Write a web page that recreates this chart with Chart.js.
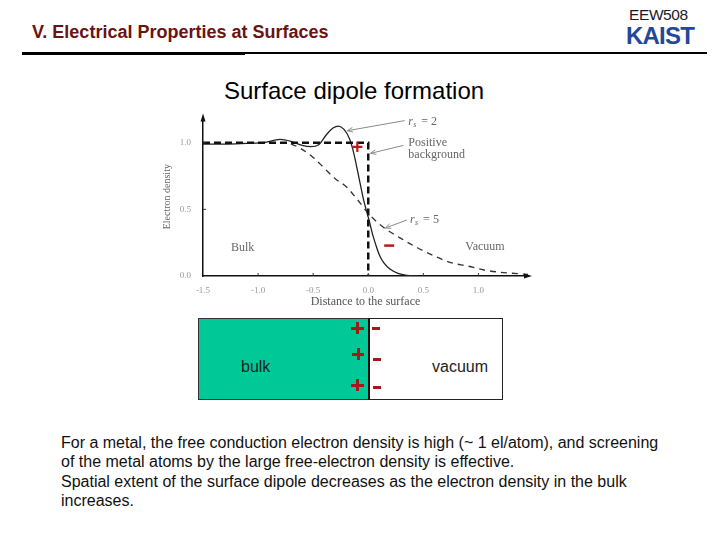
<!DOCTYPE html>
<html>
<head>
<meta charset="utf-8">
<script src="https://cdn.jsdelivr.net/npm/chart.js@4/dist/chart.umd.min.js"></script>
<style>
  body { margin: 0; background: #fff; font-family: "Liberation Sans", Arial, sans-serif; }
  #page { position: relative; width: 720px; height: 540px; overflow: hidden; }
  .abs { position: absolute; white-space: nowrap; }
  #head { left: 32px; top: 22px; font-size: 18px; font-weight: bold; color: #6b1212; }
  #code { left: 629px; top: 6px; font-size: 15.5px; color: #1a1a2a; letter-spacing: -0.4px; }
  #logo { left: 626px; top: 22px; font-size: 24px; font-weight: bold; color: #23479a; letter-spacing: -0.8px; }
  #rule1 { left: 22px; top: 52px; width: 223px; height: 3px; background: #000; }
  #rule2 { left: 245px; top: 52px; width: 462px; height: 2px; background: #000; }
  #title { left: 224px; top: 77px; font-size: 24px; color: #000; }
  #wrap { left: 150px; top: 100px; width: 390px; height: 210px; }
  #bulkBox { left: 198px; top: 318px; width: 170px; height: 80px; background: #00c896; border: 1px solid #333; border-right: none; }
  #vacBox { left: 368px; top: 318px; width: 132px; height: 80px; background: #fff; border: 1px solid #222; border-left: 2px solid #111; }
  .lbl { font-size: 16px; color: #222; }
  .bar { position: absolute; background: #a31818; }
  #para { left: 61px; top: 433px; font-size: 16px; line-height: 19.3px; color: #111; }
</style>
</head>
<body>
<div id="page">
  <div class="abs" id="head">V. Electrical Properties at Surfaces</div>
  <div class="abs" id="code">EEW508</div>
  <div class="abs" id="logo">KAIST</div>
  <div class="abs" id="rule1"></div>
  <div class="abs" id="rule2"></div>
  <div class="abs" id="title">Surface dipole formation</div>
  <div class="abs" id="wrap"><canvas id="myChart" width="390" height="210"></canvas></div>

  <div class="abs" id="bulkBox"></div>
  <div class="abs" id="vacBox"></div>
  <div class="abs lbl" style="left:241px; top:358px;">bulk</div>
  <div class="abs lbl" style="left:432px; top:358px;">vacuum</div>

  <!-- plus signs -->
  <div class="bar" style="left:351px; top:327px; width:13px; height:2.5px;"></div>
  <div class="bar" style="left:356px; top:322px; width:2.5px; height:12px;"></div>
  <div class="bar" style="left:352px; top:353px; width:12px; height:2.5px;"></div>
  <div class="bar" style="left:357px; top:348px; width:2.5px; height:12px;"></div>
  <div class="bar" style="left:351px; top:384px; width:13px; height:2.5px;"></div>
  <div class="bar" style="left:356px; top:379px; width:2.5px; height:12px;"></div>
  <!-- minus signs -->
  <div class="bar" style="left:372px; top:327px; width:8px; height:2.5px;"></div>
  <div class="bar" style="left:373px; top:358px; width:8px; height:2.5px;"></div>
  <div class="bar" style="left:373px; top:386px; width:8px; height:2.5px;"></div>

  <div class="abs" id="para">For a metal, the free conduction electron density is high (~ 1 el/atom), and screening<br>of the metal atoms by the large free-electron density is effective.<br>Spatial extent of the surface dipole decreases as the electron density in the bulk<br>increases.</div>
</div>

<script>
// tick positions
const xTicks = [-1.5, -1.0, -0.5, 0.0, 0.5, 1.0];
const yTicks = [0.0, 0.5, 1.0];

// r_s = 2 (solid)
const rs2X = [-1.5, -1.3, -1.1, -0.95, -0.8, -0.7, -0.6, -0.52, -0.45, -0.38, -0.32, -0.27, -0.22, -0.17, -0.14, -0.11, -0.08, -0.05, -0.02, 0.01, 0.04, 0.07, 0.10, 0.14, 0.20, 0.27, 0.35, 0.45];
const rs2Y = [0.99, 0.99, 0.995, 1.0, 1.025, 1.01, 0.98, 0.97, 0.985, 1.06, 1.11, 1.125, 1.10, 1.03, 0.95, 0.84, 0.72, 0.60, 0.50, 0.41, 0.31, 0.23, 0.16, 0.10, 0.05, 0.02, 0.005, 0.0];

// r_s = 5 (dashed)
const rs5X = [-1.5, -1.1, -0.8, -0.7, -0.6, -0.5, -0.4, -0.3, -0.2, -0.1, 0.0, 0.1, 0.2, 0.3, 0.45, 0.6, 0.75, 0.9, 1.05, 1.2, 1.45];
const rs5Y = [1.0, 1.0, 1.0, 0.99, 0.95, 0.89, 0.81, 0.73, 0.67, 0.575, 0.47, 0.39, 0.33, 0.28, 0.21, 0.15, 0.10, 0.075, 0.045, 0.028, 0.012];

// positive background (step)
const bgX = [-1.5, 0.0, 0.0];
const bgY = [1.0, 1.0, 0.0];

const toPts = (xs, ys) => xs.map((x, i) => ({ x: x, y: ys[i] }));

const serif = '"Liberation Serif", "DejaVu Serif", serif';

const annotations = {
    id: 'annotations',
    afterDraw(chart) {
        const c = chart.ctx;
        const sx = chart.scales.x, sy = chart.scales.y;
        const px = v => sx.getPixelForValue(v);
        const py = v => sy.getPixelForValue(v);
        const area = chart.chartArea;
        c.save();

        // axis arrows
        c.fillStyle = '#111';
        c.beginPath();
        c.moveTo(area.left, area.top - 4);
        c.lineTo(area.left - 2.5, area.top + 4);
        c.lineTo(area.left + 2.5, area.top + 4);
        c.fill();
        c.beginPath();
        c.moveTo(area.right + 4, area.bottom);
        c.lineTo(area.right - 4, area.bottom - 2.5);
        c.lineTo(area.right - 4, area.bottom + 2.5);
        c.fill();

        // inward tick marks
        c.strokeStyle = '#333';
        c.lineWidth = 1;
        xTicks.slice(1).forEach(t => {
            c.beginPath();
            c.moveTo(px(t), area.bottom);
            c.lineTo(px(t), area.bottom - 3);
            c.stroke();
        });
        yTicks.slice(1).forEach(t => {
            c.beginPath();
            c.moveTo(area.left, py(t));
            c.lineTo(area.left + 3, py(t));
            c.stroke();
        });

        // pointer arrows
        c.strokeStyle = '#8a8a8a';
        const arrow = (x1, y1, x2, y2) => {
            const a1 = px(x1), b1 = py(y1), a2 = px(x2), b2 = py(y2);
            c.beginPath();
            c.moveTo(a1, b1);
            c.lineTo(a2, b2);
            c.stroke();
            const ang = Math.atan2(b2 - b1, a2 - a1);
            c.beginPath();
            c.moveTo(a2, b2);
            c.lineTo(a2 - 6 * Math.cos(ang - 0.4), b2 - 6 * Math.sin(ang - 0.4));
            c.moveTo(a2, b2);
            c.lineTo(a2 - 6 * Math.cos(ang + 0.4), b2 - 6 * Math.sin(ang + 0.4));
            c.stroke();
        };
        arrow(0.33, 1.166, -0.19, 1.09);
        arrow(0.32, 0.98, 0.02, 0.92);
        arrow(0.35, 0.42, 0.155, 0.36);

        // text labels
        c.fillStyle = '#666';
        c.textBaseline = 'middle';
        c.textAlign = 'left';
        const rsLabel = (x, y, n) => {
            c.font = 'italic 12px ' + serif;
            c.fillText('r', px(x), py(y));
            c.font = 'italic 8px ' + serif;
            c.fillText('s', px(x) + 5, py(y) + 3);
            c.font = '12px ' + serif;
            c.fillText('= ' + n, px(x) + 13, py(y));
        };
        rsLabel(0.364, 1.153, 2);
        rsLabel(0.38, 0.423, 5);
        c.font = '12px ' + serif;
        c.fillText('Positive', px(0.364), py(1.0));
        c.fillText('background', px(0.364), py(0.912));
        c.textAlign = 'center';
        c.fillText('Bulk', px(-1.14), py(0.21));
        c.fillText('Vacuum', px(1.06), py(0.22));

        // red charge marks
        c.fillStyle = '#c01818';
        c.font = 'bold 20px "Liberation Sans", Arial, sans-serif';
        c.fillText('+', px(-0.1), py(0.955));
        c.fillRect(px(0.19) - 5, py(0.23) - 1, 10, 2.5);

        c.restore();
    }
};

const ctx = document.getElementById('myChart').getContext('2d');
ctx.letterSpacing = '0.6px';

const myChart = new Chart(ctx, {
    type: 'line',
    data: {
        datasets: [
            {
                label: 'Positive background',
                data: toPts(bgX, bgY),
                borderColor: '#111',
                borderWidth: 2.5,
                borderDash: [7, 4],
                pointRadius: 0,
                tension: 0,
                fill: false
            },
            {
                label: 'rs = 5',
                data: toPts(rs5X, rs5Y),
                borderColor: '#333',
                borderWidth: 1.3,
                borderDash: [6, 5],
                pointRadius: 0,
                cubicInterpolationMode: 'monotone',
                fill: false
            },
            {
                label: 'rs = 2',
                data: toPts(rs2X, rs2Y),
                borderColor: '#222',
                borderWidth: 1.3,
                pointRadius: 0,
                cubicInterpolationMode: 'monotone',
                fill: false
            }
        ]
    },
    options: {
        responsive: false,
        animation: false,
        layout: { padding: { left: 0, right: 12, top: 13, bottom: 0 } },
        plugins: {
            legend: { display: false },
            tooltip: { enabled: false }
        },
        scales: {
            x: {
                type: 'linear',
                min: -1.5,
                max: 1.45,
                afterFit: s => { s.height = 34; },
                afterBuildTicks: s => { s.ticks = xTicks.map(v => ({ value: v })); },
                grid: { display: false, drawTicks: false },
                border: { display: true, color: '#111', width: 1.5 },
                ticks: {
                    padding: 9,
                    color: '#999',
                    font: { family: serif, size: 9 },
                    callback: v => v.toFixed(1)
                },
                title: {
                    display: true,
                    text: 'Distance to the surface',
                    color: '#555',
                    font: { family: serif, size: 12 },
                    padding: { top: 0, bottom: 1 }
                }
            },
            y: {
                type: 'linear',
                min: 0,
                max: 1.19,
                afterFit: s => { s.width = 53; },
                afterBuildTicks: s => { s.ticks = yTicks.map(v => ({ value: v })); },
                grid: { display: false, drawTicks: false },
                border: { display: true, color: '#111', width: 1.5 },
                ticks: {
                    padding: 12,
                    color: '#999',
                    font: { family: serif, size: 9 },
                    callback: v => v.toFixed(1)
                },
                title: {
                    display: true,
                    text: 'Electron density',
                    color: '#666',
                    font: { family: serif, size: 10 },
                    padding: { top: 11, bottom: 0 }
                }
            }
        }
    },
    plugins: [annotations]
});
</script>
</body>
</html>
